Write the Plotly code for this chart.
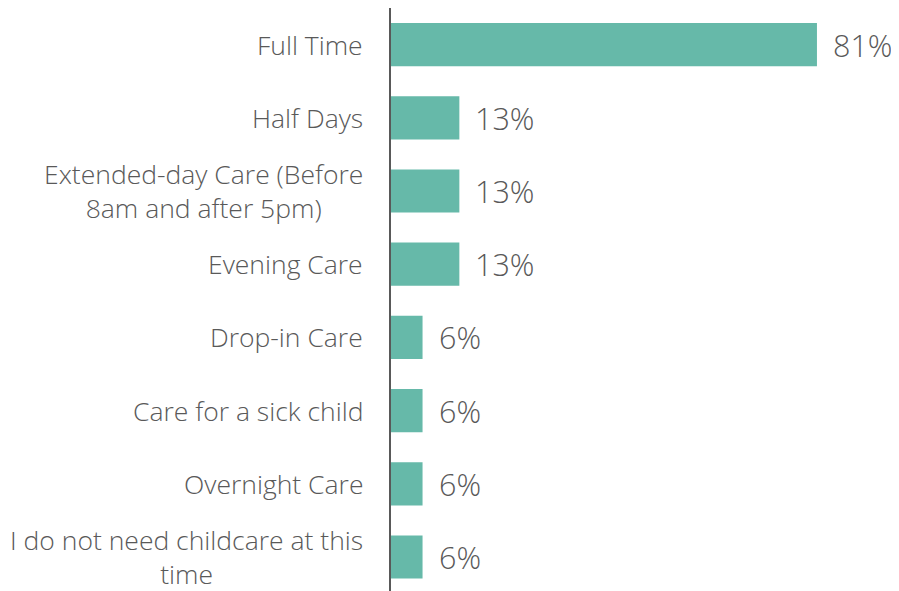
import plotly.graph_objects as go

categories = [
    "Full Time",
    "Half Days",
    "Extended-day Care (Before<br>8am and after 5pm)",
    "Evening Care",
    "Drop-in Care",
    "Care for a sick child",
    "Overnight Care",
    "I do not need childcare at this<br>time",
]
values = [81, 13, 13, 13, 6, 6, 6, 6]

BAR_COLOR = "#66B9A9"
TEXT_COLOR = "#595959"
FONT = "Open Sans"

fig = go.Figure(
    go.Bar(
        x=values,
        y=categories,
        orientation="h",
        marker=dict(color=BAR_COLOR, line=dict(width=0)),
        hoverinfo="skip",
    )
)

annotations = []
for cat, val in zip(categories, values):
    annotations.append(dict(
        x=0, y=cat, xref="x", yref="y", text=cat, showarrow=False,
        xanchor="right", yanchor="middle", align="center", xshift=-26,
        font=dict(family=FONT, size=26.5, color=TEXT_COLOR, weight=300),
    ))
    annotations.append(dict(
        x=val, y=cat, xref="x", yref="y", text=f"{val}%", showarrow=False,
        xanchor="left", yanchor="middle", xshift=14,
        font=dict(family=FONT, size=30.5, color=TEXT_COLOR, weight=300),
    ))

fig.update_layout(
    width=891, height=591,
    margin=dict(l=383, r=0, t=0, b=5),
    paper_bgcolor="white", plot_bgcolor="white",
    bargap=0.41,
    showlegend=False,
    annotations=annotations,
    xaxis=dict(range=[0, 96.6], visible=False, fixedrange=True),
    yaxis=dict(
        autorange="reversed", showticklabels=False, ticks="",
        showline=True, linecolor="#595959", linewidth=2,
        showgrid=False, zeroline=False, fixedrange=True,
    ),
)

fig.write_html("out.html", config={"displayModeBar": False})
